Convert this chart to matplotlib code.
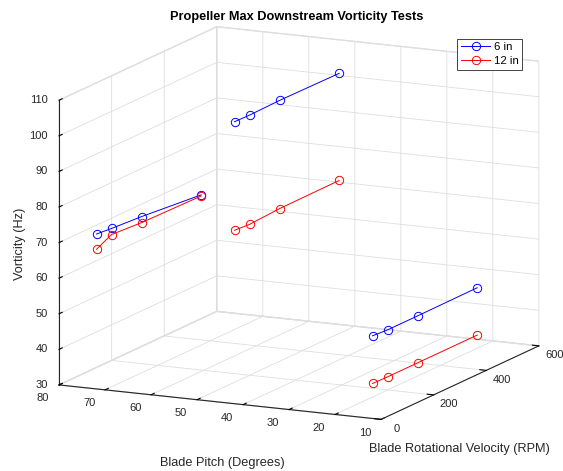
import numpy as np
import matplotlib
matplotlib.use("Agg")
import matplotlib.pyplot as plt
from matplotlib.transforms import offset_copy
from mpl_toolkits.mplot3d import proj3d

plt.rcParams["font.family"] = ["Liberation Sans", "DejaVu Sans"]
plt.rcParams["grid.color"] = "#DEDEDE"
plt.rcParams["grid.linewidth"] = 0.6

# Test conditions
blade_pitch = [75, 45, 15]            # degrees
blade_rpm = [55, 112, 227, 453]       # RPM

# Max downstream vorticity (Hz), one row per blade pitch
vorticity_6in = [
    [71.2, 70.8, 70.2, 68.5],
    [106.9, 106.8, 107.0, 106.8],
    [50.9, 50.6, 50.6, 50.7],
]
vorticity_12in = [
    [66.9, 69.1, 68.5, 68.2],
    [76.4, 76.1, 76.6, 76.7],
    [37.5, 37.4, 37.4, 37.4],
]

series = [("6 in", vorticity_6in, "#0000FF"), ("12 in", vorticity_12in, "#FF0000")]

x_ticks = [80, 70, 60, 50, 40, 30, 20, 10]
y_ticks = [0, 200, 400, 600]
z_ticks = [30, 40, 50, 60, 70, 80, 90, 100, 110]

W, H = 563, 471
fig = plt.figure(figsize=(W / 100, H / 100), dpi=100)
S = 440
ax = fig.add_axes([73 / W, 22 / H, S / W, S / H], projection="3d", proj_type="ortho")
ax.view_init(elev=12.9, azim=-64.4)
ax.set_box_aspect((357, 365, 292), zoom=1.298)

ink = "#262626"
handles = []
for label, rows, color in series:
    for i, (p, zs) in enumerate(zip(blade_pitch, rows)):
        ln, = ax.plot([p] * len(blade_rpm), blade_rpm, zs, "-o", color=color,
                      mfc="none", mec=color, ms=6, lw=0.7, mew=0.7,
                      label=label if i == 0 else None)
        if i == 0:
            handles.append(ln)

x_lim, y_lim, z_lim = (80, 10), (0, 600), (30, 110)
ax.set_xlim(*x_lim)
ax.set_ylim(*y_lim)
ax.set_zlim(*z_lim)
ax.set_xticks(x_ticks)
ax.set_yticks(y_ticks)
ax.set_zticks(z_ticks)

# tick labels are placed by hand below, keep only the tick marks here
ax.tick_params(axis="x", labelbottom=False)
ax.tick_params(axis="y", labelleft=False)
ax.tick_params(axis="z", labelleft=False)

# vertical axis on the front-left edge
ax.zaxis.set_ticks_position("lower")
ax.zaxis.set_label_position("lower")

for axis in (ax.xaxis, ax.yaxis, ax.zaxis):
    axis.set_pane_color((1, 1, 1, 1))
    axis.pane.set_edgecolor("#DEDEDE")
    axis.line.set_color(ink)
    axis.line.set_linewidth(0.8)
    axis._axinfo["tick"]["inward_factor"] = 0.0
    axis._axinfo["tick"]["outward_factor"] = 0.25
    axis._axinfo["tick"]["linewidth"] = {True: 0.8, False: 0.5}
    axis._axinfo["tick"]["color"] = ink

ax.set_xlabel("")
ax.set_ylabel("")
ax.set_zlabel("")

# settle the projection, then put horizontal tick labels next to each tick
fig.canvas.draw()
M = ax.get_proj()


def tick_label(x, y, z, s, dx, dy, ha="center", va="center"):
    px, py, _ = proj3d.proj_transform(x, y, z, M)
    tr = offset_copy(ax.transData, fig=fig, x=dx, y=dy, units="dots")
    ax.text2D(px, py, s, transform=tr, ha=ha, va=va, fontsize=8, color=ink)


for v in x_ticks:
    tick_label(v, y_lim[0], z_lim[0], str(v), -16, -13.5)
for v in y_ticks:
    tick_label(x_lim[1], v, z_lim[0], str(v), 15.5, -9.3)
for v in z_ticks:
    tick_label(x_lim[0], y_lim[0], v, str(v), -11, 0, ha="right")

fig.text(297 / W, 1 - 17 / H, "Propeller Max Downstream Vorticity Tests",
         ha="center", va="center", fontsize=9.2, fontweight="bold", color="#000000")
fig.text(222 / W, 1 - 463 / H, "Blade Pitch (Degrees)", ha="center", va="center",
         fontsize=9.2, color=ink)
fig.text(459 / W, 1 - 449 / H, "Blade Rotational Velocity (RPM)", ha="center",
         va="center", fontsize=9.2, color=ink)
fig.text(20 / W, 1 - 244 / H, "Vorticity (Hz)", ha="center", va="center",
         rotation=90, fontsize=9.2, color=ink)

leg = fig.legend(handles=handles, loc="upper right",
                 bbox_to_anchor=(522 / W, 1 - 39 / H), bbox_transform=fig.transFigure,
                 fontsize=8.2, frameon=True, fancybox=False, framealpha=1,
                 edgecolor=ink, handlelength=2.6, borderpad=0.3, labelspacing=0.35,
                 handletextpad=0.3, borderaxespad=0)
leg.get_frame().set_linewidth(0.6)

fig.savefig("out.png", dpi=100)
